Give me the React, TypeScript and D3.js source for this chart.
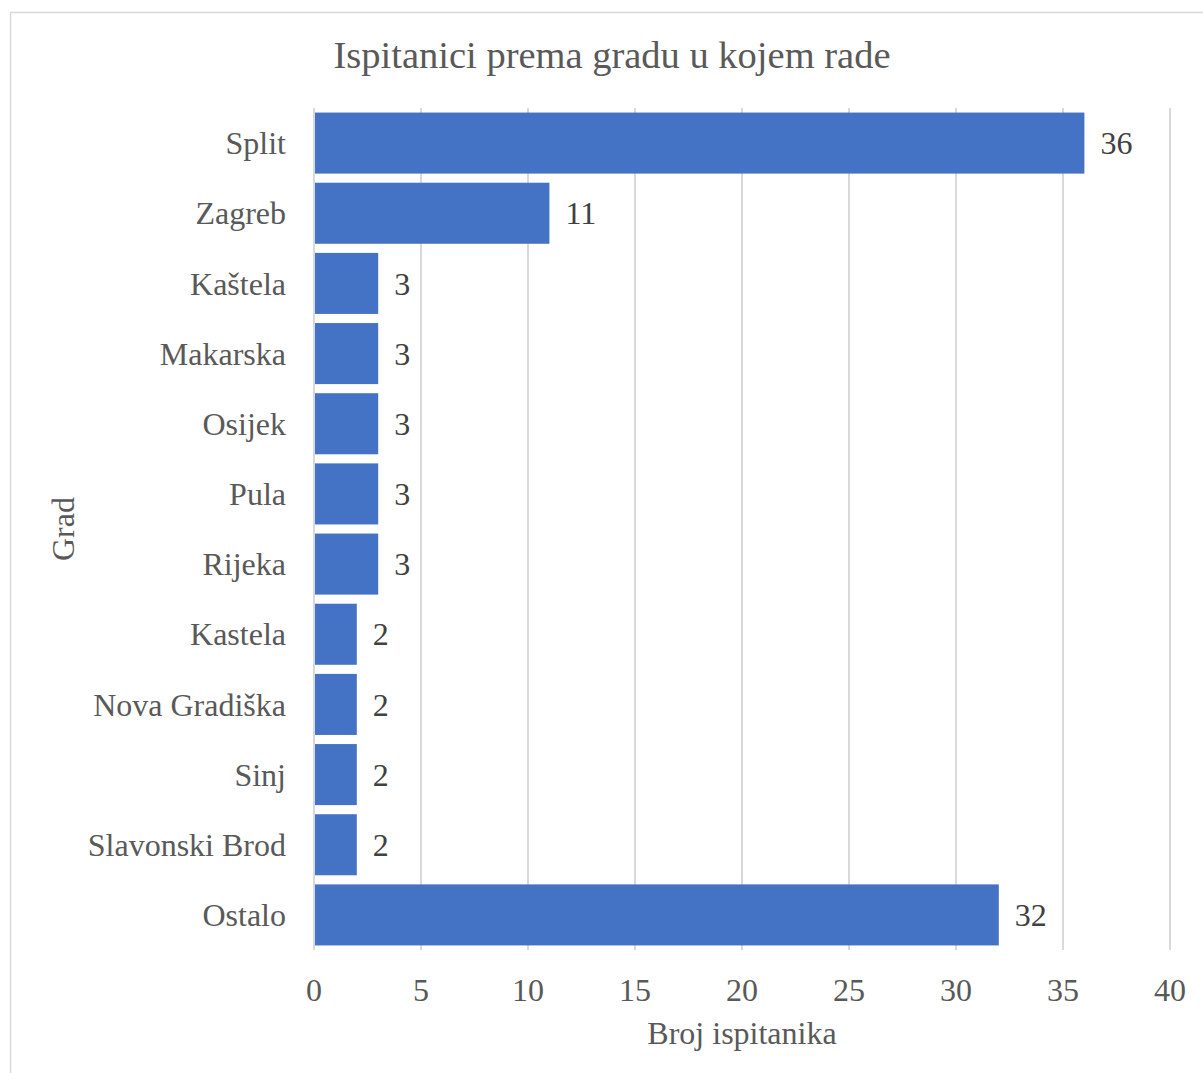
import { useEffect, useRef } from 'react';
import * as d3 from 'd3';

const cities = [
  'Split',
  'Zagreb',
  'Kaštela',
  'Makarska',
  'Osijek',
  'Pula',
  'Rijeka',
  'Kastela',
  'Nova Gradiška',
  'Sinj',
  'Slavonski Brod',
  'Ostalo',
];
const counts = [36, 11, 3, 3, 3, 3, 3, 2, 2, 2, 2, 32];
const xTicks = [0, 5, 10, 15, 20, 25, 30, 35, 40];

const title = 'Ispitanici prema gradu u kojem rade';
const xTitle = 'Broj ispitanika';
const yTitle = 'Grad';

export default function App() {
  const ref = useRef<SVGSVGElement | null>(null);

  useEffect(() => {
    if (!ref.current) return;
    const width = 1203;
    const height = 1073;
    const margin = { top: 108, right: 33, bottom: 123, left: 314 };
    const font = '"Liberation Serif", "Times New Roman", serif';

    const svg = d3.select(ref.current);
    svg.selectAll('*').remove();
    svg.attr('width', width).attr('height', height).style('font-family', font);

    svg
      .append('rect')
      .attr('x', 10.5)
      .attr('y', 12.5)
      .attr('width', width + 20)
      .attr('height', height + 20)
      .attr('fill', '#fff')
      .attr('stroke', '#d9d9d9')
      .attr('stroke-width', 1.5);

    const x = d3
      .scaleLinear()
      .domain([0, 40])
      .range([margin.left, width - margin.right]);

    const y = d3
      .scaleBand<string>()
      .domain(cities)
      .range([margin.top, height - margin.bottom])
      .paddingInner(0.13)
      .paddingOuter(0.065);

    const g = svg.append('g');

    // vertical grid lines
    g.selectAll('line.grid')
      .data(xTicks)
      .join('line')
      .attr('class', 'grid')
      .attr('x1', d => x(d))
      .attr('x2', d => x(d))
      .attr('y1', margin.top)
      .attr('y2', height - margin.bottom)
      .attr('stroke', '#d9d9d9')
      .attr('stroke-width', 2);

    g.selectAll('rect.bar')
      .data(cities)
      .join('rect')
      .attr('class', 'bar')
      .attr('x', x(0) + 1)
      .attr('y', d => y(d)!)
      .attr('width', (d, i) => x(counts[i]) - x(0) - 1)
      .attr('height', y.bandwidth())
      .attr('fill', '#4472c4');

    g.selectAll('text.val')
      .data(cities)
      .join('text')
      .attr('class', 'val')
      .attr('x', (d, i) => x(counts[i]) + 16)
      .attr('y', d => y(d)! + y.bandwidth() / 2)
      .attr('dy', '0.35em')
      .attr('font-size', 32)
      .attr('fill', '#404040')
      .text((d, i) => counts[i]);

    g.selectAll('text.cat')
      .data(cities)
      .join('text')
      .attr('class', 'cat')
      .attr('x', margin.left - 28)
      .attr('y', d => y(d)! + y.bandwidth() / 2)
      .attr('dy', '0.35em')
      .attr('text-anchor', 'end')
      .attr('font-size', 32)
      .attr('fill', '#595959')
      .text(d => d);

    g.selectAll('text.tick')
      .data(xTicks)
      .join('text')
      .attr('class', 'tick')
      .attr('x', d => x(d))
      .attr('y', 990)
      .attr('dy', '0.35em')
      .attr('text-anchor', 'middle')
      .attr('font-size', 32)
      .attr('fill', '#595959')
      .text(d => d);

    svg
      .append('text')
      .attr('x', (margin.left + width - margin.right) / 2)
      .attr('y', 1033)
      .attr('dy', '0.35em')
      .attr('text-anchor', 'middle')
      .attr('font-size', 32)
      .attr('fill', '#595959')
      .text(xTitle);

    svg
      .append('text')
      .attr('transform', `translate(63,${(margin.top + height - margin.bottom) / 2}) rotate(-90)`)
      .attr('dy', '0.35em')
      .attr('text-anchor', 'middle')
      .attr('font-size', 32)
      .attr('fill', '#595959')
      .text(yTitle);

    svg
      .append('text')
      .attr('x', 612)
      .attr('y', 55)
      .attr('dy', '0.35em')
      .attr('text-anchor', 'middle')
      .attr('font-size', 38.5)
      .attr('fill', '#595959')
      .text(title);
  }, []);

  return (
    <svg
      ref={ref}
      style={{ position: 'absolute', left: 0, top: 0, display: 'block' }}
    />
  );
}
